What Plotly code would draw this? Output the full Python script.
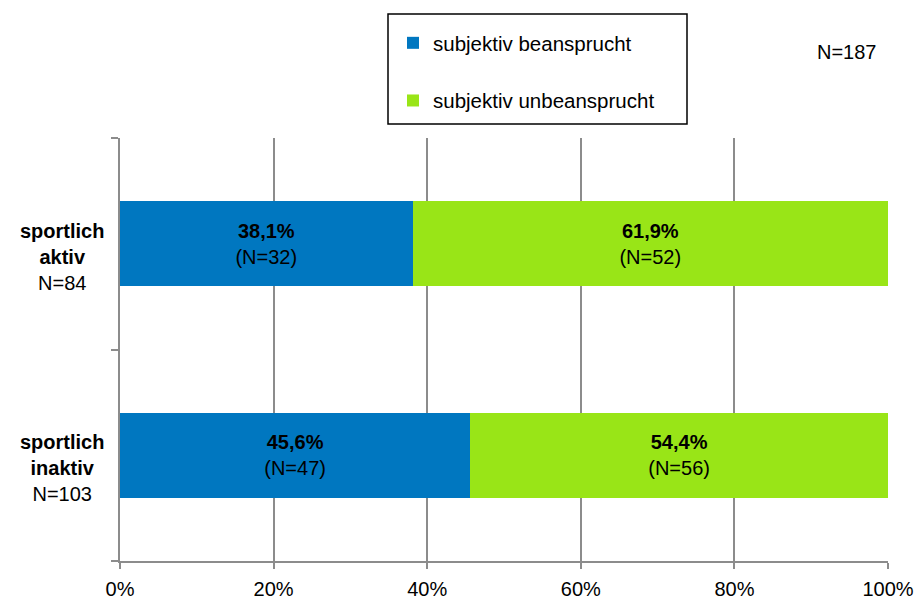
import plotly.graph_objects as go

# Groups (bottom to top on the category axis)
groups = ["inaktiv", "aktiv"]
group_labels = ["<b>sportlich<br>inaktiv</b><br>N=103", "<b>sportlich<br>aktiv</b><br>N=84"]

# Shares in percent and counts per series
beansprucht_pct = [45.6, 38.1]
beansprucht_n = [47, 32]
unbeansprucht_pct = [54.4, 61.9]
unbeansprucht_n = [56, 52]

# Percentage axis ticks
x_ticks = [0, 20, 40, 60, 80, 100]
x_tick_labels = ["0%", "20%", "40%", "60%", "80%", "100%"]

total_label = "N=187"

BLUE = "#0077C0"
GREEN = "#99E517"
GRID = "#8C8C8C"
FONT = "Liberation Sans, Arial, sans-serif"
FS = 20

fig = go.Figure()
fig.add_trace(go.Bar(
    name="subjektiv beansprucht", y=groups, x=beansprucht_pct, orientation="h",
    customdata=beansprucht_n, marker=dict(color=BLUE, line=dict(width=0)),
    texttemplate="<b>%{x:.1f}%</b><br>(N=%{customdata})",
    textposition="inside", insidetextanchor="middle", textangle=0,
    textfont=dict(color="black", size=FS, family=FONT),
    legendgroup="a", hoverinfo="skip",
))
fig.add_trace(go.Bar(
    name="subjektiv unbeansprucht", y=groups, x=unbeansprucht_pct, orientation="h",
    customdata=unbeansprucht_n, marker=dict(color=GREEN, line=dict(width=0)),
    texttemplate="<b>%{x:.1f}%</b><br>(N=%{customdata})",
    textposition="inside", insidetextanchor="middle", textangle=0,
    textfont=dict(color="black", size=FS, family=FONT),
    legendgroup="b", hoverinfo="skip",
))

L, R, T, B = 120, 26, 138, 42
W, H = 914, 603
pw, ph = W - L - R, H - T - B


def px_x(px):
    return (px - L) / pw


def px_y(py):
    return 1 - (py - T) / ph


annotations = []
for g, lab in zip(groups, group_labels):
    annotations.append(dict(
        x=px_x(62), xref="paper", y=g, yref="y", yshift=-13,
        text=lab, showarrow=False, xanchor="center", yanchor="middle",
        align="center", font=dict(size=FS, color="black", family=FONT),
    ))
annotations.append(dict(
    x=px_x(847), xref="paper", y=px_y(52), yref="paper", text=total_label,
    showarrow=False, xanchor="center", yanchor="middle",
    font=dict(size=FS, color="black", family=FONT),
))

fig.update_layout(
    width=W, height=H,
    margin=dict(l=L, r=R, t=T, b=B, autoexpand=False),
    barmode="stack", bargap=0.598,
    separators=",.",
    paper_bgcolor="white", plot_bgcolor="white",
    font=dict(family=FONT, size=FS, color="black"),
    showlegend=True,
    legend=dict(
        x=px_x(393), y=px_y(23), xanchor="left", yanchor="top",
        bgcolor="rgba(0,0,0,0)", borderwidth=0,
        traceorder="grouped", tracegroupgap=28,
        font=dict(size=20.5, family=FONT, color="black"),
    ),
    shapes=[dict(
        type="rect", xref="paper", yref="paper",
        x0=px_x(388), x1=px_x(687), y0=px_y(124), y1=px_y(14),
        line=dict(color="black", width=1.5), fillcolor="rgba(0,0,0,0)",
    )],
    annotations=annotations,
    xaxis=dict(
        range=[0, 100], tickmode="array", tickvals=x_ticks, ticktext=x_tick_labels,
        showgrid=True, gridcolor=GRID, gridwidth=1.5,
        showline=True, linecolor=GRID, linewidth=1.5,
        ticks="outside", ticklen=6, tickcolor=GRID, tickwidth=1.5,
        ticklabelstandoff=3, zeroline=False, automargin=False,
        tickfont=dict(size=FS, family=FONT, color="black"),
        fixedrange=True,
    ),
    yaxis=dict(
        type="category", categoryorder="array", categoryarray=groups,
        showgrid=False, showline=True, linecolor=GRID, linewidth=1.5,
        ticks="outside", tickson="boundaries", ticklen=7, tickcolor=GRID,
        tickwidth=1.5, showticklabels=False, zeroline=False, fixedrange=True,
        automargin=False,
    ),
)

fig.write_html("out.html")
